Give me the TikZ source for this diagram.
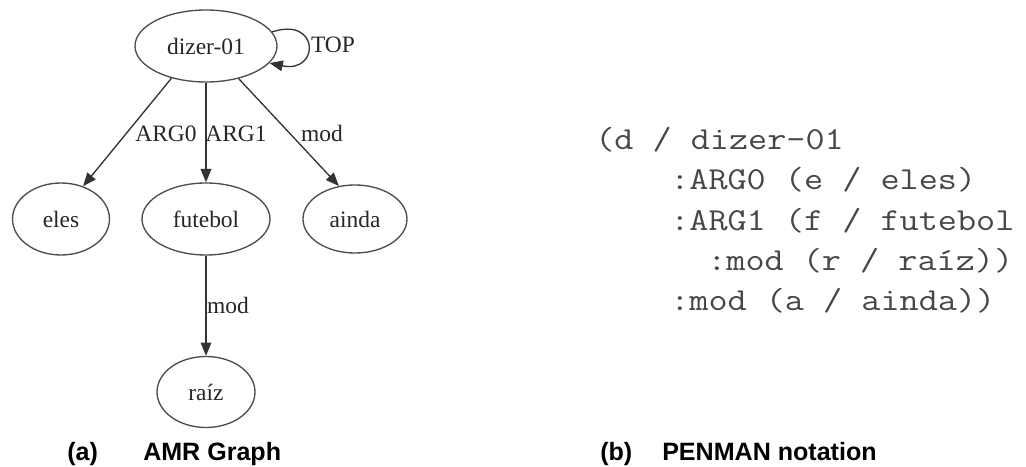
\documentclass[tikz,border=0pt]{standalone}
\usepackage{fontspec}
\usepackage{graphicx}
\setmainfont{Liberation Serif}
\setsansfont{Liberation Sans}
\usetikzlibrary{shapes.geometric,arrows.meta}

% typewriter listing, widened slightly to a Courier-like pitch
\newcommand{\penline}[1]{\scalebox{1.16}[1]{#1}}

\tikzset{
  concept/.style={ellipse, draw=black!70, line width=1pt, inner sep=0pt,
    text=black!85, font=\fontsize{17.6}{20}\selectfont},
  edgelbl/.style={anchor=base, inner sep=0pt, text=black!85,
    font=\fontsize{17.6}{20}\selectfont},
  rel/.style={draw=black!80, line width=1pt,
    -{Triangle[length=10pt,width=8pt]}},
  penman/.style={anchor=base west, inner sep=0pt, text=black!72,
    font=\ttfamily\fontsize{24}{28}\selectfont},
  caption/.style={anchor=base west, inner sep=0pt,
    font=\sffamily\bfseries\fontsize{18.8}{22}\selectfont}
}

\begin{document}
\begin{tikzpicture}[x=0.75pt,y=-0.75pt]
  \useasboundingbox (0,0) rectangle (1026,467);

  % AMR graph: concept nodes (sizes in pt)
  \node[concept, minimum width=106.5pt, minimum height=54pt] (dizer) at (206,46) {dizer-01};
  \node[concept, minimum width=72.75pt, minimum height=54pt] (eles)  at (61,219) {eles};
  \node[concept, minimum width=96pt,    minimum height=54pt] (fut)   at (206,219) {futebol};
  \node[concept, minimum width=78pt,    minimum height=51pt] (ainda) at (355,219) {ainda};
  \node[concept, minimum width=73.5pt,  minimum height=53.25pt] (raiz) at (206,392) {raíz};

  % relations
  \draw[rel] (dizer.223) -- (eles.56);
  \draw[rel] (dizer) -- (fut);
  \draw[rel] (dizer.315) -- (ainda.116);
  \draw[rel] (fut) -- (raiz);
  \draw[rel] (dizer.12) .. controls (320,16) and (320,74) .. (dizer.-15);

  % relation labels
  \node[edgelbl] (lArgA) at (166,142) {ARG0};
  \node[edgelbl] (lArgB) at (236,142) {ARG1};
  \node[edgelbl] (lModA) at (322,142) {mod};
  \node[edgelbl] (lTop)  at (333,53)  {TOP};
  \node[edgelbl] (lModB) at (228,313) {mod};

  % PENMAN serialisation
  \node[penman] (p1) at (595,150) {\penline{(d / dizer-01}};
  \node[penman] (p2) at (670,190) {\penline{:ARG0 (e / eles)}};
  \node[penman] (p3) at (670,230) {\penline{:ARG1 (f / futebol}};
  \node[penman] (p4) at (707,270) {\penline{:mod (r / raíz))}};
  \node[penman] (p5) at (670,310) {\penline{:mod (a / ainda))}};

  % captions
  \node[caption] (capA)  at (67,460)  {(a)};
  \node[caption] (capAt) at (143,460) {AMR Graph};
  \node[caption] (capB)  at (600,460) {(b)};
  \node[caption] (capBt) at (662,460) {PENMAN notation};
\end{tikzpicture}
\end{document}
